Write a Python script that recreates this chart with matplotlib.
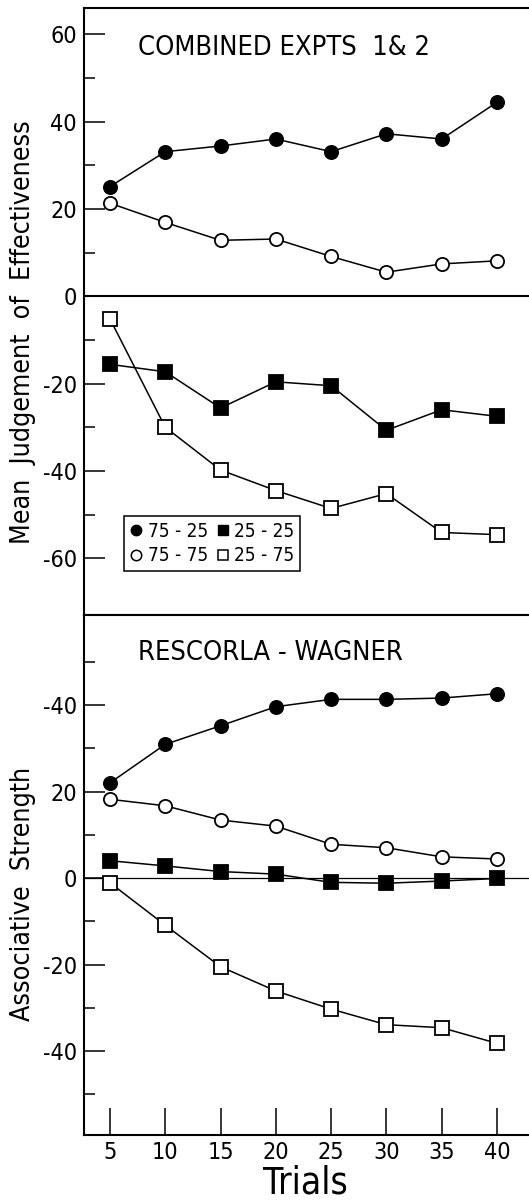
import matplotlib
matplotlib.use("Agg")
import matplotlib.pyplot as plt
from matplotlib import font_manager
from matplotlib.lines import Line2D

# data
trials = [5, 10, 15, 20, 25, 30, 35, 40]

# combined experiments 1 & 2 (mean judgement)
exp_75_25 = [25.1, 33.1, 34.4, 36.0, 33.1, 37.2, 36.0, 44.4]
exp_75_75 = [21.3, 16.9, 12.8, 13.1, 9.1, 5.5, 7.4, 8.1]
exp_25_25 = [-15.6, -17.3, -25.6, -19.6, -20.5, -30.7, -26.0, -27.5]
exp_25_75 = [-5.2, -30.0, -39.8, -44.5, -48.6, -45.2, -54.1, -54.6]

# Rescorla-Wagner simulation (associative strength)
rw_75_25 = [22.0, 30.9, 35.2, 39.6, 41.3, 41.3, 41.6, 42.6]
rw_75_75 = [18.2, 16.7, 13.4, 12.0, 7.8, 7.0, 4.9, 4.4]
rw_25_25 = [4.0, 2.8, 1.5, 0.9, -1.0, -1.2, -0.7, -0.1]
rw_25_75 = [-1.1, -10.9, -20.5, -26.1, -30.3, -33.9, -34.6, -38.2]

series_labels = ['75 - 25', '75 - 75', '25 - 25', '25 - 75']
top_yticks = [-60, -40, -20, 0, 20, 40, 60]
top_yticklabels = ['-60', '-40', '-20', '0', '20', '40', '60']
bot_yticks = [-40, -20, 0, 20, 40]
bot_yticklabels = ['-40', '-20', '0', '20', '-40']  # as printed in the original
minor_yticks = [-50, -30, -10, 10, 30, 50]


def pick_narrow_font():
    """Look for a condensed / narrow sans face, else fall back to Roboto."""
    found = []
    for f in font_manager.fontManager.ttflist:
        if f.style != 'normal' or f.weight not in (400, 'normal', 'regular', 'book'):
            continue
        n = f.name.lower()
        if 'mono' in n or 'serif' in n and 'sans' not in n:
            continue
        if f.stretch in ('condensed', 'semi-condensed') or 'narrow' in n or 'condensed' in n:
            found.append(f)
    for want in ('condensed', 'semi-condensed'):
        for f in found:
            if f.stretch == want:
                return f.name, f.stretch
    if found:
        return found[0].name, found[0].stretch
    return 'Roboto', 'normal'


FONT, STRETCH = pick_narrow_font()
plt.rcParams['font.family'] = [FONT, 'DejaVu Sans']
plt.rcParams['font.stretch'] = STRETCH

W, H = 529, 1202
fig = plt.figure(figsize=(W / 100, H / 100), dpi=100)
renderer = fig.canvas.get_renderer()


def size_for(s, width_px, **kw):
    # font size that makes string s about width_px wide
    t = fig.text(0, 0, s, fontsize=20, **kw)
    w = t.get_window_extent(renderer=renderer).width
    t.remove()
    return 20 * width_px / w


# the original face is narrower than ours, so go a little over the width fit
tick_fs = 1.06 * 0.5 * (size_for('60', 23) + size_for('-20', 35))
title_fs = 1.1 * 0.5 * (size_for('COMBINED EXPTS  1& 2', 278) + size_for('RESCORLA - WAGNER', 229))
legend_fs = 1.05 * size_for('75 - 25', 57)
ylab_fs = 0.5 * (size_for('Mean  Judgement  of  Effectiveness', 409)
                 + size_for('Associative  Strength', 263))
trials_fs = 0.96 * size_for('Trials', 88)

left = 84 / W
ax1 = fig.add_axes([left, 1 - 615 / H, 1 - left, (615 - 8) / H])
ax2 = fig.add_axes([left, 1 - 1135 / H, 1 - left, (1135 - 615) / H])


def plot_series(ax, y, marker, fill):
    ax.plot(trials, y, color='black', lw=1.1, marker=marker, ms=9.5,
            mfc=fill, mec='black', mew=1.3, zorder=3, clip_on=False)


for ax, (a, b, c, d) in [(ax1, (exp_75_25, exp_75_75, exp_25_25, exp_25_75)),
                         (ax2, (rw_75_25, rw_75_75, rw_25_25, rw_25_75))]:
    plot_series(ax, a, 'o', 'black')
    plot_series(ax, b, 'o', 'white')
    plot_series(ax, c, 's', 'black')
    plot_series(ax, d, 's', 'white')
    ax.set_xlim(2.65, 42.9)
    ax.spines['right'].set_visible(False)
    for s in ['left', 'top', 'bottom']:
        ax.spines[s].set_linewidth(1.5)
    ax.set_yticks(minor_yticks, minor=True)
    ax.tick_params(axis='y', which='major', direction='in', length=15,
                   width=1.1, pad=5, labelsize=tick_fs)
    ax.tick_params(axis='y', which='minor', direction='in', length=8, width=1.1)

ax1.axhline(0, color='black', lw=1.5, zorder=1)
ax2.axhline(0, color='black', lw=0.9, zorder=1)

ax1.set_ylim(-73, 66)
ax1.set_yticks(top_yticks, labels=top_yticklabels)
ax1.tick_params(axis='x', bottom=False, labelbottom=False)

ax2.set_ylim(-59.4, 60.8)
ax2.set_yticks(bot_yticks, labels=bot_yticklabels)
ax2.set_xticks(trials)
ax2.tick_params(axis='x', direction='in', length=19.5, width=1.1, pad=4, labelsize=tick_fs)

# legend in the lower left of the top panel
handles = [
    Line2D([], [], ls='none', marker='o', ms=7.5, mfc='black', mec='black'),
    Line2D([], [], ls='none', marker='o', ms=7.5, mfc='white', mec='black', mew=1.1),
    Line2D([], [], ls='none', marker='s', ms=7.5, mfc='black', mec='black'),
    Line2D([], [], ls='none', marker='s', ms=7.5, mfc='white', mec='black', mew=1.1),
]
leg = ax1.legend(handles, series_labels, ncol=2, loc='upper left',
                 bbox_to_anchor=(0.09, 0.163), borderaxespad=0,
                 fontsize=legend_fs, handlelength=0.7, handletextpad=0.25,
                 columnspacing=0.45, labelspacing=0.3, borderpad=0.3,
                 fancybox=False, framealpha=1, edgecolor='black')
leg.get_frame().set_linewidth(1.1)

fig.text(138 / W, 1 - 55 / H, 'COMBINED EXPTS  1& 2', va='baseline', fontsize=title_fs)
fig.text(138 / W, 1 - 660 / H, 'RESCORLA - WAGNER', va='baseline', fontsize=title_fs)

fig.text(23 / W, 1 - 332 / H, 'Mean  Judgement  of  Effectiveness', rotation=90,
         ha='center', va='center', fontsize=ylab_fs)
fig.text(23 / W, 1 - 894 / H, 'Associative  Strength', rotation=90,
         ha='center', va='center', fontsize=ylab_fs)
fig.text(305 / W, 1 - 1193 / H, 'Trials', ha='center', va='baseline', fontsize=trials_fs)

fig.savefig('out.png', dpi=100)
